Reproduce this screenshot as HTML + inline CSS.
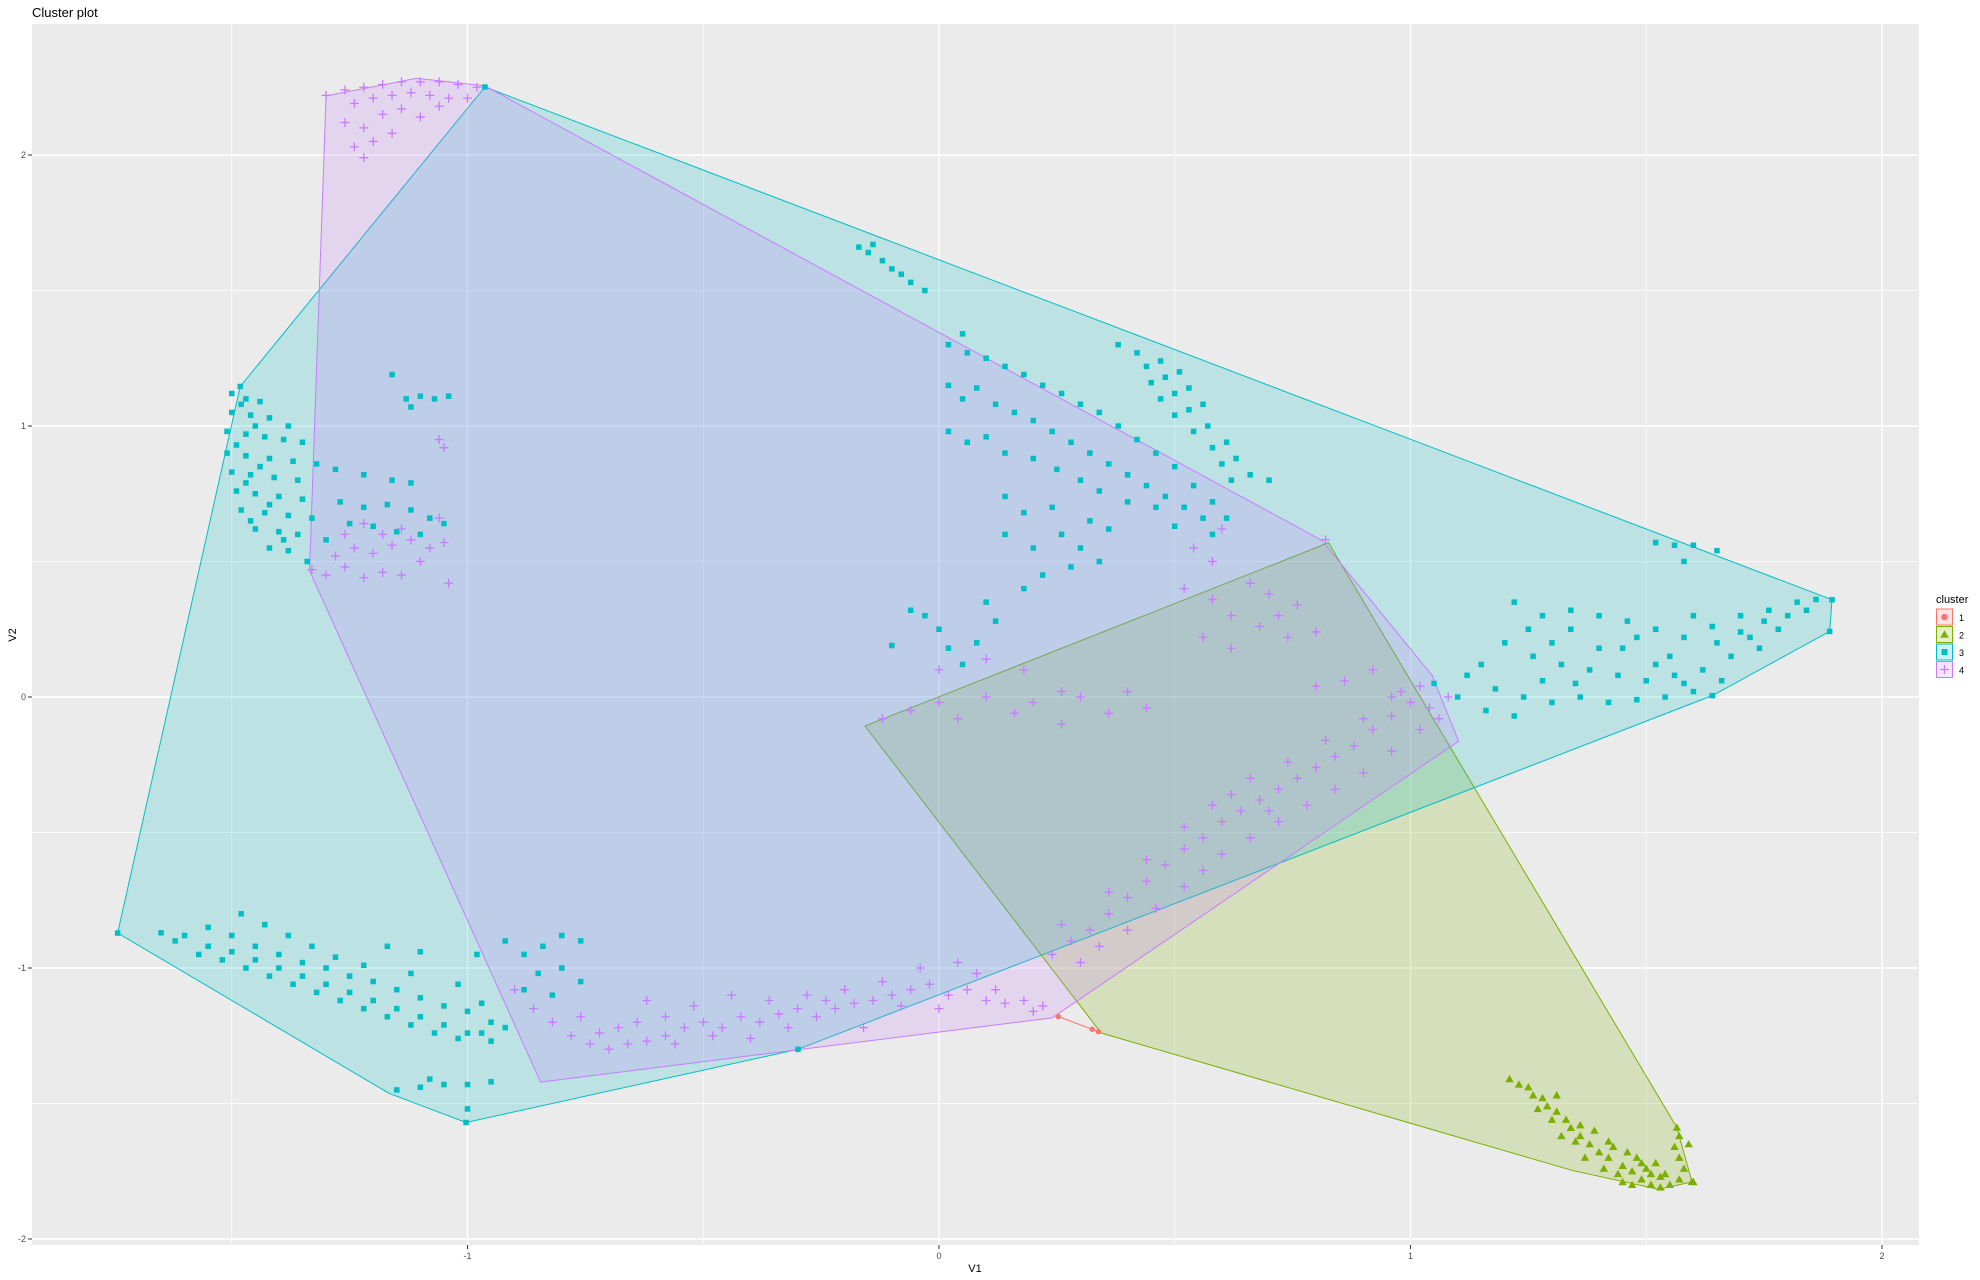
<!DOCTYPE html>
<html><head><meta charset="utf-8"><style>
html,body{margin:0;padding:0;background:#fff;}
svg{display:block;font-family:"Liberation Sans",Arial,sans-serif;}
</style></head><body>
<svg id="chart" width="1980" height="1280" viewBox="0 0 1980 1280">
<rect x="0" y="0" width="1980" height="1280" fill="#fff"/>
<text x="32" y="17" font-size="13" fill="#000">Cluster plot</text>
<rect x="32" y="24" width="1887" height="1221" fill="#EBEBEB"/>
<g id="grid"></g>
<g id="hulls"></g>
<g id="points"></g>
<g id="axes"></g>
<text x="975" y="1272" font-size="11" text-anchor="middle" fill="#000">V1</text>
<text x="0" y="0" font-size="11" text-anchor="middle" fill="#000" transform="translate(16,635) rotate(-90)">V2</text>
<g id="legend">
<text x="1936" y="603" font-size="11" fill="#000">cluster</text>
</g>
</svg>
<script>
const xTicks=[-1,0,1,2];
const yTicks=[-2,-1,0,1,2];
const xMinor=[-1.5,-0.5,0.5,1.5];
const yMinor=[-1.5,-0.5,0.5,1.5];
const clusterNames=["1","2","3","4"];
const colors=["#F8766D","#7CAE00","#00BFC4","#C77CFF"];
const hull1=[[0.253,-1.179],[0.338,-1.235]];
const hull2=[[-0.157,-0.107],[0.826,0.569],[1.565,-1.589],[1.597,-1.789],[1.527,-1.817],[1.343,-1.747],[0.344,-1.240]];
const hull3=[[-0.963,2.251],[1.894,0.359],[1.889,0.242],[1.640,0.005],[-0.299,-1.300],[-1.003,-1.570],[-1.166,-1.463],[-1.742,-0.871],[-1.482,1.146]];
const hull4=[[-1.300,2.218],[-1.108,2.283],[-0.963,2.255],[0.812,0.578],[1.046,0.079],[1.102,-0.163],[0.240,-1.184],[-0.845,-1.421],[-1.335,0.466]];
const pts1=[[0.253,-1.179],[0.325,-1.226],[0.338,-1.235]];
const pts2=[[1.21,-1.41],[1.23,-1.43],[1.25,-1.44],[1.26,-1.47],[1.28,-1.48],[1.29,-1.51],[1.31,-1.53],[1.30,-1.56],[1.33,-1.56],[1.34,-1.59],[1.36,-1.62],[1.35,-1.64],[1.38,-1.65],[1.40,-1.68],[1.42,-1.70],[1.39,-1.60],[1.43,-1.66],[1.45,-1.73],[1.47,-1.75],[1.49,-1.78],[1.51,-1.80],[1.53,-1.81],[1.55,-1.80],[1.57,-1.78],[1.58,-1.74],[1.57,-1.70],[1.59,-1.65],[1.57,-1.62],[1.48,-1.70],[1.44,-1.76],[1.50,-1.74],[1.52,-1.72],[1.46,-1.68],[1.41,-1.74],[1.37,-1.70],[1.32,-1.62],[1.54,-1.76],[1.27,-1.52],[1.31,-1.47],[1.56,-1.66],[1.60,-1.79],[1.47,-1.80],[1.597,-1.789],[1.565,-1.589],[1.36,-1.58],[1.42,-1.64],[1.49,-1.72],[1.53,-1.77],[1.45,-1.79],[1.51,-1.76]];
const pts3=[[-1.50,1.12],[-1.47,1.10],[-1.44,1.09],[-1.50,1.05],[-1.46,1.04],[-1.42,1.03],[-1.38,1.00],[-1.51,0.98],[-1.47,0.97],[-1.43,0.96],[-1.39,0.95],[-1.35,0.94],[-1.51,0.90],[-1.47,0.89],[-1.42,0.88],[-1.37,0.87],[-1.32,0.86],[-1.50,0.83],[-1.46,0.82],[-1.41,0.81],[-1.36,0.80],[-1.49,0.76],[-1.45,0.75],[-1.40,0.74],[-1.35,0.73],[-1.48,0.69],[-1.43,0.68],[-1.38,0.67],[-1.33,0.66],[-1.45,0.62],[-1.40,0.61],[-1.36,0.60],[-1.42,0.55],[-1.38,0.54],[-1.34,0.50],
[-1.48,1.08],[-1.45,1.00],[-1.49,0.93],[-1.44,0.85],[-1.47,0.79],[-1.42,0.71],[-1.46,0.65],[-1.39,0.58],
[-1.28,0.84],[-1.22,0.82],[-1.16,0.80],[-1.12,0.79],[-1.27,0.72],[-1.22,0.70],[-1.17,0.71],[-1.12,0.69],[-1.08,0.66],[-1.25,0.64],[-1.20,0.63],[-1.15,0.61],[-1.10,0.60],[-1.05,0.64],[-1.30,0.58],
[-1.16,1.19],[-1.13,1.10],[-1.10,1.11],[-1.07,1.10],[-1.04,1.11],[-1.12,1.07],
[-0.17,1.66],[-0.15,1.64],[-0.12,1.61],[-0.10,1.58],[-0.08,1.56],[-0.06,1.53],[-0.03,1.50],[-0.14,1.67],
[0.02,1.30],[0.05,1.34],[0.06,1.27],[0.10,1.25],[0.14,1.22],[0.18,1.19],[0.22,1.15],[0.26,1.12],[0.30,1.08],[0.34,1.05],[0.38,1.00],[0.42,0.95],[0.46,0.90],[0.50,0.85],[0.54,0.78],[0.58,0.72],[0.61,0.66],
[0.02,1.15],[0.05,1.10],[0.08,1.14],[0.12,1.08],[0.16,1.05],[0.20,1.02],[0.24,0.98],[0.28,0.94],[0.32,0.90],[0.36,0.86],[0.40,0.82],[0.44,0.78],[0.48,0.74],[0.52,0.70],[0.56,0.66],
[0.02,0.98],[0.06,0.94],[0.10,0.96],[0.14,0.90],[0.20,0.88],[0.25,0.84],[0.30,0.80],[0.34,0.76],[0.40,0.72],[0.46,0.70],[0.50,0.63],[0.58,0.60],
[0.14,0.74],[0.18,0.68],[0.14,0.60],[0.20,0.55],[0.24,0.70],[0.26,0.60],[0.22,0.45],[0.30,0.55],[0.32,0.65],[0.28,0.48],[0.18,0.40],[0.34,0.50],[0.36,0.62],
[-0.06,0.32],[-0.03,0.30],[0.00,0.25],[0.02,0.18],[0.05,0.12],[0.08,0.20],[0.12,0.28],[-0.10,0.19],[0.10,0.35],
[0.42,1.27],[0.44,1.22],[0.47,1.24],[0.45,1.16],[0.48,1.18],[0.51,1.20],[0.47,1.10],[0.50,1.12],[0.53,1.14],[0.50,1.04],[0.53,1.06],[0.56,1.08],[0.54,0.98],[0.57,1.00],[0.58,0.92],[0.61,0.94],[0.60,0.86],[0.63,0.88],[0.62,0.80],[0.66,0.82],[0.38,1.30],[0.70,0.80],
[1.12,0.08],[1.18,0.03],[1.24,0.00],[1.30,-0.02],[1.36,0.00],[1.42,-0.02],[1.48,-0.01],[1.54,0.00],[1.60,0.02],[1.16,-0.05],[1.22,-0.07],[1.10,0.00],
[1.20,0.20],[1.26,0.15],[1.32,0.12],[1.38,0.10],[1.44,0.08],[1.50,0.06],[1.56,0.08],[1.62,0.10],[1.68,0.15],[1.74,0.18],
[1.22,0.35],[1.28,0.30],[1.34,0.25],[1.40,0.30],[1.46,0.28],[1.52,0.25],[1.58,0.22],[1.64,0.26],[1.70,0.30],[1.76,0.32],[1.82,0.35],[1.86,0.36],
[1.25,0.25],[1.45,0.18],[1.65,0.20],[1.78,0.25],[1.70,0.24],[1.60,0.30],[1.30,0.20],[1.05,0.05],[1.35,0.05],[1.55,0.15],[1.75,0.28],[1.80,0.30],
[1.15,0.12],[1.28,0.06],[1.40,0.18],[1.52,0.12],[1.66,0.06],[1.72,0.22],[1.84,0.32],[1.48,0.22],[1.58,0.05],[1.34,0.32],
[1.52,0.57],[1.56,0.56],[1.60,0.56],[1.65,0.54],[1.58,0.50],
[-1.65,-0.87],[-1.60,-0.88],[-1.55,-0.92],[-1.50,-0.94],[-1.45,-0.97],[-1.40,-1.00],[-1.35,-1.03],[-1.30,-1.06],[-1.25,-1.09],[-1.20,-1.12],[-1.15,-1.15],[-1.10,-1.18],[-1.05,-1.21],[-1.00,-1.24],[-0.95,-1.27],
[-1.55,-0.85],[-1.50,-0.88],[-1.45,-0.92],[-1.40,-0.95],[-1.35,-0.98],[-1.30,-1.00],[-1.25,-1.03],[-1.20,-1.05],[-1.15,-1.08],[-1.10,-1.11],[-1.05,-1.14],[-1.00,-1.16],[-0.95,-1.20],
[-1.48,-0.80],[-1.43,-0.84],[-1.38,-0.88],[-1.33,-0.92],[-1.28,-0.96],[-1.22,-0.99],[-1.12,-1.02],[-1.02,-1.06],[-0.97,-1.13],[-0.92,-1.22],
[-1.62,-0.90],[-1.57,-0.95],[-1.52,-0.97],[-1.47,-1.00],[-1.42,-1.03],[-1.37,-1.06],[-1.32,-1.09],[-1.27,-1.12],[-1.22,-1.15],[-1.17,-1.18],[-1.12,-1.21],[-1.07,-1.24],[-1.02,-1.26],[-0.97,-1.24],
[-0.92,-0.90],[-0.88,-0.95],[-0.84,-0.92],[-0.80,-0.88],[-0.76,-0.90],[-0.85,-1.02],[-0.80,-1.00],[-0.88,-1.08],[-0.82,-1.10],[-0.76,-1.05],[-0.98,-0.95],[-1.17,-0.92],[-1.10,-0.94],
[-1.15,-1.45],[-1.10,-1.44],[-1.05,-1.43],[-1.00,-1.43],[-0.95,-1.42],[-1.08,-1.41],[-1.00,-1.52],
[-1.742,-0.871],[1.894,0.359],[1.889,0.242],[-0.963,2.251],[-1.482,1.146],[-1.003,-1.570],[-0.299,-1.300],[1.640,0.005]];
const pts4=[[-1.30,2.22],[-1.26,2.24],[-1.22,2.25],[-1.18,2.26],[-1.14,2.27],[-1.10,2.27],[-1.06,2.27],[-1.02,2.26],[-0.98,2.25],[-1.24,2.19],[-1.20,2.21],[-1.16,2.22],[-1.12,2.23],[-1.08,2.22],[-1.04,2.21],[-1.00,2.21],[-1.26,2.12],[-1.22,2.10],[-1.18,2.15],[-1.14,2.17],[-1.10,2.14],[-1.06,2.18],[-1.20,2.05],[-1.24,2.03],[-1.16,2.08],[-1.22,1.99],
[-1.33,0.47],[-1.30,0.45],[-1.26,0.48],[-1.22,0.44],[-1.18,0.46],[-1.14,0.45],[-1.28,0.52],[-1.24,0.55],[-1.20,0.53],[-1.16,0.56],[-1.12,0.58],[-1.08,0.55],[-1.05,0.57],[-1.10,0.50],[-1.14,0.62],[-1.06,0.66],[-1.04,0.42],[-1.18,0.60],[-1.22,0.64],[-1.26,0.60],
[-1.06,0.95],[-1.05,0.92],
[-0.90,-1.08],[-0.86,-1.15],[-0.82,-1.20],[-0.78,-1.25],[-0.74,-1.28],[-0.70,-1.30],[-0.66,-1.28],[-0.62,-1.27],[-0.58,-1.25],[-0.54,-1.22],[-0.50,-1.20],[-0.46,-1.22],[-0.42,-1.18],[-0.38,-1.20],[-0.34,-1.17],[-0.30,-1.15],[-0.26,-1.18],[-0.22,-1.15],[-0.18,-1.13],[-0.14,-1.12],[-0.10,-1.10],[-0.06,-1.08],[-0.02,-1.06],[0.02,-1.10],[0.06,-1.08],[0.10,-1.12],[0.14,-1.13],[0.18,-1.12],[0.22,-1.14],
[-0.64,-1.20],[-0.58,-1.18],[-0.52,-1.14],[-0.44,-1.10],[-0.36,-1.12],[-0.28,-1.10],[-0.20,-1.08],[-0.12,-1.05],[-0.04,-1.00],[0.04,-0.98],[0.08,-1.02],[-0.68,-1.22],[-0.76,-1.18],[-0.62,-1.12],[-0.40,-1.26],[-0.16,-1.22],[0.00,-1.15],
[-0.72,-1.24],[-0.56,-1.28],[-0.48,-1.25],[-0.32,-1.22],[-0.24,-1.12],[-0.08,-1.14],[0.12,-1.08],[0.20,-1.16],
[0.24,-0.95],[0.28,-0.90],[0.32,-0.86],[0.36,-0.80],[0.40,-0.74],[0.44,-0.68],[0.48,-0.62],[0.52,-0.56],[0.56,-0.52],[0.60,-0.46],[0.64,-0.42],[0.68,-0.38],[0.72,-0.34],[0.76,-0.30],[0.80,-0.26],[0.84,-0.22],[0.88,-0.18],[0.92,-0.12],[0.96,-0.07],[1.00,-0.02],
[0.30,-0.98],[0.34,-0.92],[0.40,-0.86],[0.46,-0.78],[0.52,-0.70],[0.56,-0.64],[0.60,-0.58],[0.66,-0.52],[0.72,-0.46],[0.78,-0.40],[0.84,-0.34],[0.90,-0.28],[0.96,-0.20],[1.02,-0.12],[1.06,-0.08],
[0.26,-0.84],[0.36,-0.72],[0.44,-0.60],[0.52,-0.48],[0.58,-0.40],[0.66,-0.30],[0.74,-0.24],[0.82,-0.16],[0.90,-0.08],[0.96,0.00],[1.02,0.04],[0.62,-0.36],[0.70,-0.42],
[-0.12,-0.08],[-0.06,-0.05],[0.00,-0.02],[0.04,-0.08],[0.10,0.00],[0.16,-0.06],[0.20,-0.02],[0.26,-0.10],[0.30,0.00],[0.36,-0.06],[0.40,0.02],[0.44,-0.04],[0.26,0.02],[0.18,0.10],[0.10,0.14],[0.00,0.10],
[0.52,0.40],[0.58,0.36],[0.62,0.30],[0.66,0.42],[0.70,0.38],[0.72,0.30],[0.76,0.34],[0.74,0.22],[0.68,0.26],[0.80,0.24],[0.62,0.18],[0.56,0.22],[0.58,0.50],[0.54,0.55],[0.60,0.62],[0.82,0.58],
[0.80,0.04],[0.86,0.06],[0.92,0.10],[0.98,0.02],[1.04,-0.04],[1.08,0.00]];

const NS="http://www.w3.org/2000/svg";
const X0=939, XU=471.5, Y0=697, YU=271;
function sx(v){return X0+v*XU;}
function sy(v){return Y0-v*YU;}
function mk(tag,attrs,parent){const e=document.createElementNS(NS,tag);for(const k in attrs)e.setAttribute(k,attrs[k]);parent.appendChild(e);return e;}

const grid=document.getElementById('grid');
xMinor.forEach(v=>{const l=mk('line',{x1:sx(v),x2:sx(v),y1:24,y2:1245,stroke:'#fff','stroke-width':0.7},grid);

});
yMinor.forEach(v=>{const l=mk('line',{x1:32,x2:1919,y1:sy(v),y2:sy(v),stroke:'#fff','stroke-width':0.7},grid);

});
xTicks.forEach(v=>{const l=mk('line',{x1:sx(v),x2:sx(v),y1:24,y2:1245,stroke:'#fff','stroke-width':1.4},grid);

});
yTicks.forEach(v=>{const l=mk('line',{x1:32,x2:1919,y1:sy(v),y2:sy(v),stroke:'#fff','stroke-width':1.4},grid);

});

const axes=document.getElementById('axes');
xTicks.forEach(v=>{
 const t=mk('line',{x1:sx(v),x2:sx(v),y1:1245,y2:1249,stroke:'#333','stroke-width':1},axes);
 
 
 const tx=mk('text',{x:sx(v),y:1259,'font-size':9,'text-anchor':'middle',fill:'#4D4D4D'},axes);
 tx.textContent=String(v);
 
 
});
yTicks.forEach(v=>{
 const t=mk('line',{x1:28,x2:32,y1:sy(v),y2:sy(v),stroke:'#333','stroke-width':1},axes);
 
 
 const tx=mk('text',{x:26,y:sy(v)+3,'font-size':9,'text-anchor':'end',fill:'#4D4D4D'},axes);
 tx.textContent=String(v);
 
 
});

const hulls=document.getElementById('hulls');
[hull1,hull2,hull3,hull4].forEach((h,i)=>{
 const p=mk('polygon',{points:h.map(d=>sx(d[0])+','+sy(d[1])).join(' '),fill:colors[i],'fill-opacity':0.2,stroke:colors[i],'stroke-width':1},hulls);
 
 
});

const pg=document.getElementById('points');
function drawPoint(shape,x,y,col,parent,s){
 let e;
 if(shape===0){e=mk('circle',{cx:x,cy:y,r:s*0.55,fill:col},parent);}
 else if(shape===1){e=mk('polygon',{points:(x)+','+(y-s*0.6)+' '+(x-s*0.6)+','+(y+s*0.45)+' '+(x+s*0.6)+','+(y+s*0.45),fill:col},parent);}
 else if(shape===2){e=mk('rect',{x:x-s/2,y:y-s/2,width:s,height:s,fill:col},parent);}
 else {e=mk('path',{d:'M'+(x-s/2)+' '+y+'H'+(x+s/2)+'M'+x+' '+(y-s/2)+'V'+(y+s/2),stroke:col,'stroke-width':1.3,fill:'none'},parent);}
 return e;
}
[pts1,pts2,pts3,pts4].forEach((arr,i)=>{
 const g=mk('g',{},pg);
 
 
 const size=[5,7,5.5,9][i];
 arr.forEach(d=>{
  const e=drawPoint(i,sx(d[0]),sy(d[1]),colors[i],g,size);
  
  
 });
});

const lg=document.getElementById('legend');
clusterNames.forEach((n,i)=>{
 const y=609+i*17.5;
 const k=mk('rect',{x:1936.5,y:y,width:16,height:16,fill:colors[i],'fill-opacity':0.2,stroke:colors[i],'stroke-width':1},lg);
 
 
 const p=drawPoint(i,1944.5,y+8,colors[i],lg,[6,7,6,9][i]);
 
 
 const t=mk('text',{x:1959,y:y+12,'font-size':9,fill:'#000'},lg);
 t.textContent=n;
 
 
});
</script>
</body></html>
